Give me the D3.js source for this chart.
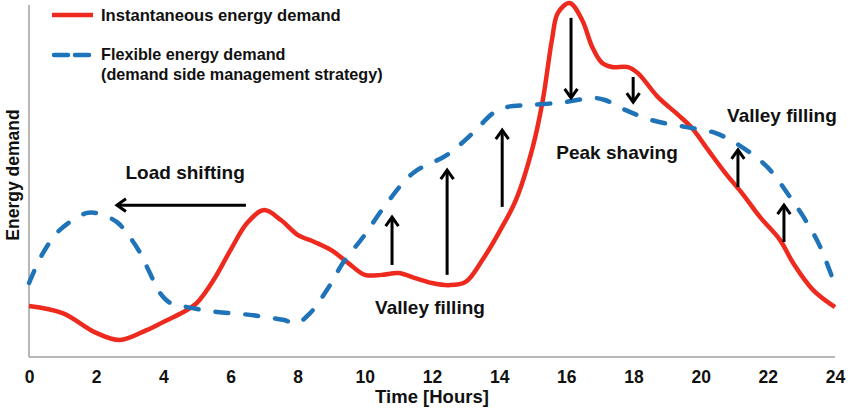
<!DOCTYPE html>
<html>
<head>
<meta charset="utf-8">
<script src="https://cdn.jsdelivr.net/npm/d3@7"></script>
<style>
  html, body { margin: 0; padding: 0; background: #fff; }
  svg { display: block; }
  text { font-family: "Liberation Sans", Arial, sans-serif; font-weight: bold; fill: #111; }
</style>
</head>
<body>
<svg id="chart" width="850" height="410"></svg>
<script>
// ---- data ----
const instantHours = [0, 1, 2, 2.7, 3.5, 4, 4.6, 5, 5.5, 6, 6.5, 7, 7.5, 8, 8.5, 9, 9.5, 10, 10.5, 11, 11.5, 12, 12.5, 13, 13.5, 14, 14.5, 15, 15.3, 15.57, 15.75, 16.1, 16.47, 16.77, 17.06, 17.36, 17.84, 18.13, 18.73, 19.33, 19.74, 20.22, 20.73, 21.23, 21.77, 22.36, 22.75, 23.35, 24];
const instantDemand = [14.4, 12.4, 6.8, 4.8, 7.6, 9.9, 12.7, 15.3, 21.8, 30.2, 37.9, 41.5, 38.7, 34.5, 32.5, 30.2, 26.6, 23.2, 23.2, 23.7, 22.3, 20.9, 20.3, 21.2, 27.4, 35.3, 44.4, 59.3, 72.6, 89.5, 97.2, 100, 95.2, 87.6, 83.1, 81.9, 81.9, 80.2, 73.4, 68.4, 64.7, 58.5, 52.0, 46.3, 39.5, 33.1, 26.6, 18.9, 14.1];

const flexHours = [0, 0.42, 0.92, 1.73, 2.11, 2.62, 3.0, 3.31, 3.6, 3.9, 4.2, 4.7, 5.6, 6.58, 7.56, 7.98, 8.37, 8.87, 9.35, 9.95, 10.66, 11.44, 12.45, 13.22, 13.82, 14.23, 15.0, 15.96, 16.77, 17.15, 17.75, 18.55, 19.54, 20.43, 21.23, 21.98, 22.66, 23.17, 23.56, 24];
const flexDemand = [20.9, 29.4, 35.9, 40.7, 40.4, 38.1, 33.9, 29.4, 23.7, 18.1, 15.3, 14.1, 12.7, 11.9, 10.5, 9.6, 12.4, 18.9, 26.6, 33.9, 43.5, 52.0, 57.1, 63.3, 68.9, 70.6, 71.2, 72.0, 73.2, 72.6, 69.8, 66.9, 65.0, 63.3, 59.3, 53.7, 45.2, 37.9, 31.1, 20.3];

const xTicks = [0, 2, 4, 6, 8, 10, 12, 14, 16, 18, 20, 22, 24];

const legendLabels = ["Instantaneous energy demand", "Flexible energy demand", "(demand side management strategy)"];

// annotation arrows: [hour, value] start and end
const arrowFrom = [[6.46, 42.9], [10.81, 26.0], [12.45, 23.2], [14.09, 42.4], [16.14, 95.8], [17.99, 79.1], [21.11, 48.0], [22.48, 32.5]];
const arrowTo   = [[2.62, 42.9], [10.81, 39.5], [12.45, 52.8], [14.09, 64.1], [16.14, 73.2], [17.99, 72.0], [21.11, 58.5], [22.48, 42.9]];

const noteLabels = ["Load shifting", "Valley filling", "Peak shaving", "Valley filling"];
const notePos = [[4.65, 52.3], [11.94, 14.1], [17.51, 57.9], [22.42, 68.4]];

// ---- layout ----
(function () {
const svg = d3.select("#chart");
const mLeft = 29, mRight = 835, mTop = 3, mBottom = 357;
const x = d3.scaleLinear().domain([0, 24]).range([mLeft, mRight]);
const y = d3.scaleLinear().domain([0, 100]).range([mBottom, mTop]);

const red = "#ee2a1f", blue = "#1f73b8", axisGrey = "#a0a0a0";

// axes lines
svg.append("line").attr("x1", mLeft).attr("x2", mLeft).attr("y1", 5).attr("y2", mBottom)
  .attr("stroke", axisGrey).attr("stroke-width", 1.5);
svg.append("line").attr("x1", mLeft).attr("x2", mRight).attr("y1", mBottom).attr("y2", mBottom)
  .attr("stroke", axisGrey).attr("stroke-width", 1.5);

const xAxis = svg.append("g").attr("transform", `translate(0,${mBottom})`)
  .call(d3.axisBottom(x).tickValues(xTicks).tickSize(0).tickPadding(14).tickFormat(d3.format("d")));
xAxis.select(".domain").remove();
xAxis.selectAll("text").attr("font-size", 17.5).attr("font-family", '"Liberation Sans", Arial, sans-serif')
  .attr("font-weight", "bold").attr("fill", "#111");

svg.append("text").attr("x", 432).attr("y", 403).attr("text-anchor", "middle")
  .attr("font-size", 18.5).text("Time [Hours]");
svg.append("text").attr("transform", `translate(19,175) rotate(-90)`).attr("text-anchor", "middle")
  .attr("font-size", 17.5).text("Energy demand");

// lines
const line = d3.line().x(d => x(d[0])).y(d => y(d[1])).curve(d3.curveCatmullRom.alpha(0.5));
const redData = instantHours.map((h, i) => [h, instantDemand[i]]);
const blueData = flexHours.map((h, i) => [h, flexDemand[i]]);

svg.append("path").datum(redData).attr("d", line).attr("fill", "none")
  .attr("stroke", red).attr("stroke-width", 4.5).attr("stroke-linejoin", "round");
svg.append("path").datum(blueData).attr("d", line).attr("fill", "none")
  .attr("stroke", blue).attr("stroke-width", 4.5).attr("stroke-dasharray", "13,17")
  .attr("stroke-linecap", "round");

// arrows
const arrows = svg.append("g");
arrowFrom.forEach((f, i) => {
  const t = arrowTo[i];
  const x1 = x(f[0]), y1 = y(f[1]), x2 = x(t[0]), y2 = y(t[1]);
  const ang = Math.atan2(y2 - y1, x2 - x1);
  const hl = 11, hw = 0.62;
  arrows.append("line").attr("x1", x1).attr("y1", y1).attr("x2", x2).attr("y2", y2)
    .attr("stroke", "#000").attr("stroke-width", 3);
  const p1 = [x2 - hl * Math.cos(ang - hw), y2 - hl * Math.sin(ang - hw)];
  const p2 = [x2 - hl * Math.cos(ang + hw), y2 - hl * Math.sin(ang + hw)];
  arrows.append("path").attr("d", `M${p1[0]},${p1[1]}L${x2},${y2}L${p2[0]},${p2[1]}`)
    .attr("fill", "none").attr("stroke", "#000").attr("stroke-width", 3)
    .attr("stroke-linejoin", "miter");
});

// annotation labels
noteLabels.forEach((s, i) => {
  svg.append("text").attr("x", x(notePos[i][0])).attr("y", y(notePos[i][1]))
    .attr("dy", "0.36em").attr("text-anchor", "middle").attr("font-size", 19).text(s);
});

// legend
svg.append("line").attr("x1", 52).attr("x2", 93).attr("y1", 15).attr("y2", 15)
  .attr("stroke", red).attr("stroke-width", 4.5);
svg.append("line").attr("x1", 54).attr("x2", 93).attr("y1", 55).attr("y2", 55)
  .attr("stroke", blue).attr("stroke-width", 4.5).attr("stroke-dasharray", "14,7")
  .attr("stroke-linecap", "round");
svg.append("text").attr("x", 101).attr("y", 21).attr("font-size", 16.6).text(legendLabels[0]);
svg.append("text").attr("x", 101).attr("y", 60).attr("font-size", 16.2).text(legendLabels[1]);
svg.append("text").attr("x", 101).attr("y", 79.5).attr("font-size", 16.2).text(legendLabels[2]);
})();
</script>
</body>
</html>
